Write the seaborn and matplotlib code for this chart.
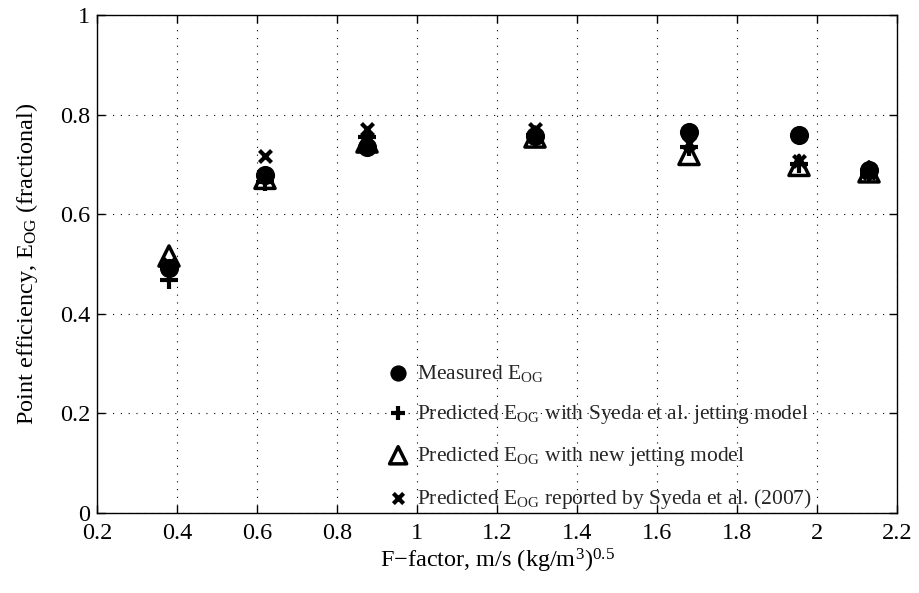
import matplotlib
matplotlib.use("Agg")
import matplotlib.pyplot as plt
import seaborn as sns
import pandas as pd
from matplotlib.ticker import FuncFormatter

sns.set_theme(style="white")
plt.rcParams['font.family'] = ['Liberation Serif', 'DejaVu Serif']
plt.rcParams['mathtext.fontset'] = 'custom'
plt.rcParams['mathtext.rm'] = 'Liberation Serif'
plt.rcParams['mathtext.it'] = 'Liberation Serif:italic'

f_factor = [0.38, 0.62, 0.875, 1.295, 1.68, 1.955, 2.13]
measured = [0.492, 0.678, 0.735, 0.757, 0.765, 0.760, 0.688]
pred_syeda_jet = [0.468, 0.665, 0.755, 0.760, 0.735, 0.700, 0.680]
pred_new_jet = [0.516, 0.672, 0.745, 0.755, 0.720, 0.698, 0.685]
pred_reported = [0.500, 0.716, 0.772, 0.772, 0.742, 0.706, 0.682]

labels = [r"Measured E$_{\mathrm{OG}}$",
          r"Predicted E$_{\mathrm{OG}}$ with Syeda et al. jetting model",
          r"Predicted E$_{\mathrm{OG}}$ with new jetting model",
          r"Predicted E$_{\mathrm{OG}}$ reported by Syeda et al. (2007)"]

fig = plt.figure(figsize=(9.19, 5.93), dpi=100)
ax = fig.add_axes([97/919, 1-513/593, 800/919, 498/593])

df1 = pd.DataFrame({"x": f_factor, "y": measured})
df2 = pd.DataFrame({"x": f_factor, "y": pred_syeda_jet})
df3 = pd.DataFrame({"x": f_factor, "y": pred_new_jet})
df4 = pd.DataFrame({"x": f_factor, "y": pred_reported})

sns.scatterplot(data=df1, x="x", y="y", ax=ax, marker="o", s=190, color="black",
                edgecolor="black", linewidth=0, label=labels[0], zorder=3)
sns.scatterplot(data=df2, x="x", y="y", ax=ax, marker="+", s=150, color="black",
                linewidth=3, label=labels[1], zorder=4)
sns.scatterplot(data=df3, x="x", y="y", ax=ax, marker="^", s=210, facecolor="none",
                edgecolor="black", linewidth=2.5, label=labels[2], zorder=4)
sns.scatterplot(data=df4, x="x", y="y", ax=ax, marker="x", s=75, color="black",
                linewidth=3, label=labels[3], zorder=4)

ax.set_xlim(0.2, 2.2)
ax.set_ylim(0, 1)
ax.set_xticks([0.2, 0.4, 0.6, 0.8, 1.0, 1.2, 1.4, 1.6, 1.8, 2.0, 2.2])
ax.set_yticks([0, 0.2, 0.4, 0.6, 0.8, 1.0])
fmt = FuncFormatter(lambda v, p: ("%g" % round(v, 2)))
ax.xaxis.set_major_formatter(fmt)
ax.yaxis.set_major_formatter(fmt)
ax.tick_params(direction="in", length=6, width=1, labelsize=17.5, colors="black",
               top=True, right=True, bottom=True, left=True)
ax.tick_params(axis="x", pad=7)
ax.tick_params(axis="y", pad=5)
for sp in ax.spines.values():
    sp.set_color("black")
    sp.set_linewidth(1)
ax.grid(True, linestyle=(0, (1, 6)), color="black", linewidth=0.8)
ax.set_axisbelow(True)

ax.set_xlabel(r"F$-$factor, m/s (kg/m$^{3}$)$^{0.5}$", fontsize=17.5, color="black", labelpad=2)
ax.set_ylabel(r"Point efficiency, E$_{\mathrm{OG}}$ (fractional)", fontsize=17.5, color="black", labelpad=14)

leg = ax.legend(loc="upper left", bbox_to_anchor=(0.332, 0.34), frameon=False,
                fontsize=15.5, handletextpad=0.15, labelspacing=0.88, markerscale=0.85,
                handlelength=1.5)

fig.savefig("out.png", dpi=100, facecolor="white")
